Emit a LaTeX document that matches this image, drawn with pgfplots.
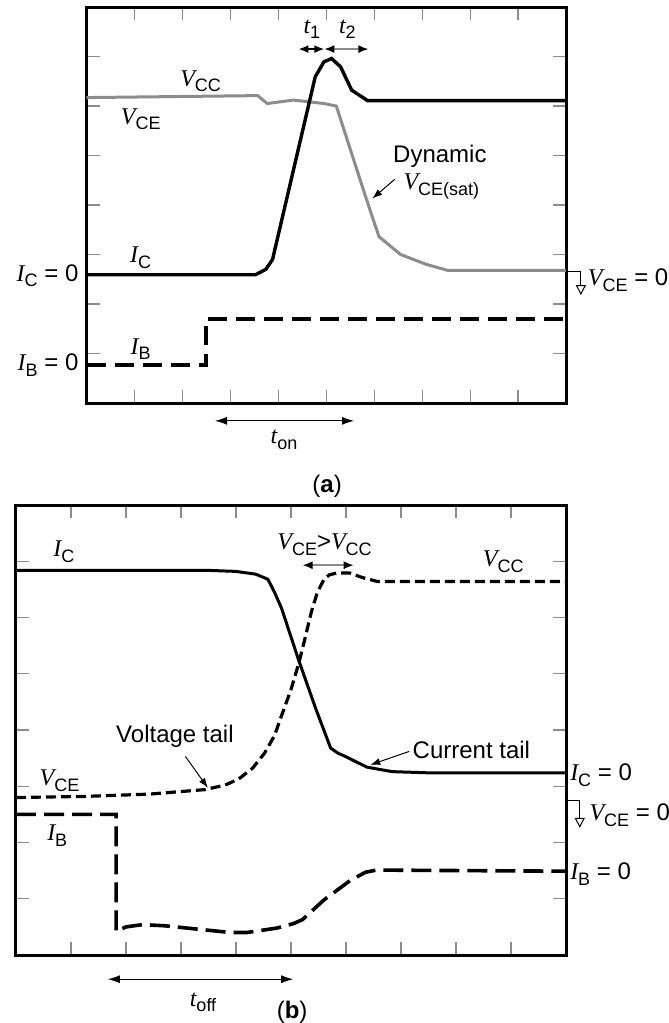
\documentclass[border=0pt]{standalone}
\usepackage{pgfplots}
\pgfplotsset{compat=1.18}
\usetikzlibrary{arrows.meta}
\usepackage{fontspec}
\setmainfont{Liberation Sans}
\newfontfamily\tms{Liberation Serif}
\newcommand{\vi}[1]{{\tms\itshape #1}}
\newcommand{\sbs}[1]{\raisebox{-0.45ex}{\fontsize{9}{10}\selectfont #1}}
\definecolor{lgray}{gray}{0.55}
\tikzset{lbl/.style={font=\fontsize{12}{14}\selectfont, inner sep=0pt}}
\pgfplotsset{
  wave/.style={
    scale only axis, clip=false,
    xmin=0, xmax=10, ymin=0, ymax=8,
    xtick={1,...,9}, ytick={1,...,7},
    xticklabels={}, yticklabels={},
    tick align=inside, major tick length=6.5pt,
    every tick/.style={lgray, line width=0.6pt},
    axis line style={line width=1.5pt},
  },
}
\begin{document}
\begin{tikzpicture}
\path[use as bounding box] (0,0) rectangle (334.5pt,-511.5pt);
% ---------------- (a) ----------------
\begin{axis}[wave, at={(43.25pt,-3.5pt)}, anchor=north west,
  width=239.75pt, height=198pt]
\addplot[lgray, line width=1.5pt] coordinates {
 (0,6.17) (3.57,6.21) (3.77,6.05) (4.32,6.12) (4.95,6.05) (5.21,6.0)
 (5.84,4.11) (6.1,3.36) (6.55,3.0) (7.09,2.8) (7.53,2.68) (10,2.68)};
\addplot[black, line width=1.7pt] coordinates {
 (0,2.59) (3.52,2.59) (3.74,2.70) (3.88,2.9) (4.77,6.59) (4.95,6.89)
 (5.11,6.96) (5.3,6.79) (5.53,6.32) (5.86,6.11) (10,6.11)};
\addplot[black, line width=2pt, dash pattern=on 9.5pt off 4.5pt] coordinates {
 (0,0.77) (2.5,0.77) (2.5,1.70) (10,1.70)};
\node[lbl] at (axis cs:2.38,6.5) {\vi{V}\sbs{CC}};
\node[lbl] at (axis cs:1.13,5.73) {\vi{V}\sbs{CE}};
\node[lbl] at (axis cs:7.37,4.99) {Dynamic};
\node[lbl] at (axis cs:7.40,4.38) {\vi{V}\sbs{CE(sat)}};
\draw[line width=0.5pt, -{Latex[length=5pt,width=3.5pt]}] (axis cs:6.43,4.52) -- (axis cs:5.96,4.13);
\node[lbl] at (axis cs:1.13,2.94) {\vi{I}\sbs{C}};
\node[lbl] at (axis cs:1.13,1.09) {\vi{I}\sbs{B}};
\node[lbl, anchor=east] at (axis cs:-0.16,2.57) {\vi{I}\sbs{C} = 0};
\node[lbl, anchor=east] at (axis cs:-0.16,0.76) {\vi{I}\sbs{B} = 0};
\draw[line width=0.5pt, -{Triangle[open,length=5pt,width=5pt]}] (axis cs:10,2.65) -- (axis cs:10.31,2.65) -- (axis cs:10.31,2.18);
\node[lbl, anchor=west] at (axis cs:10.45,2.48) {\vi{V}\sbs{CE} = 0};
\node[lbl] at (axis cs:4.70,7.55) {\vi{t}\sbs{1}};
\node[lbl] at (axis cs:5.44,7.55) {\vi{t}\sbs{2}};
\draw[line width=0.8pt, {Latex[length=5pt,width=4pt]}-{Latex[length=5pt,width=4pt]}] (axis cs:4.42,7.15) -- (axis cs:4.96,7.15);
\draw[lgray, line width=0.8pt, {Latex[black,length=5pt,width=4pt]}-{Latex[black,length=5pt,width=4pt]}] (axis cs:4.96,7.15) -- (axis cs:5.88,7.15);
\draw[line width=0.5pt, {Latex[length=6pt,width=4pt]}-{Latex[length=6pt,width=4pt]}] (axis cs:2.68,-0.36) -- (axis cs:5.58,-0.36);
\node[lbl] at (axis cs:4.12,-0.75) {\vi{t}\sbs{on}};
\node[lbl] at (axis cs:5.02,-1.68) {(\textbf{a})};
\end{axis}
% ---------------- (b) ----------------
\begin{axis}[wave, at={(8pt,-252.5pt)}, anchor=north west,
  width=275pt, height=225pt]
\addplot[black, line width=1.5pt] coordinates {
 (0,6.84) (3.43,6.84) (4.0,6.82) (4.36,6.77) (4.58,6.68) (4.70,6.45) (4.83,6.16)
 (5.14,5.24) (5.45,4.38) (5.72,3.68) (5.85,3.59) (5.99,3.53) (6.38,3.34)
 (6.84,3.26) (7.46,3.24) (10,3.24)};
\addplot[black, line width=1.6pt, dash pattern=on 5pt off 2.5pt] coordinates {
 (0,2.80) (1.26,2.82) (2.42,2.86) (3.43,2.94) (3.8,3.02) (4.05,3.13) (4.3,3.32)
 (4.52,3.59) (4.70,3.90) (4.83,4.26) (5.0,4.72) (5.14,5.18) (5.26,5.65)
 (5.37,6.10) (5.48,6.45) (5.60,6.68) (5.70,6.76) (5.83,6.79) (6.07,6.79)
 (6.30,6.71) (6.57,6.64) (10,6.64)};
\addplot[black, line width=1.8pt, dash pattern=on 10pt off 4pt] coordinates {
 (0,2.50) (1.82,2.50) (1.82,0.42) (2.0,0.50) (2.3,0.54) (2.7,0.52) (3.3,0.46)
 (3.9,0.40) (4.2,0.40) (4.75,0.48) (5.05,0.56) (5.21,0.63) (5.4,0.80) (5.6,0.98)
 (6.07,1.32) (6.35,1.47) (6.55,1.51) (10,1.49)};
\node[lbl] at (axis cs:0.87,7.17) {\vi{I}\sbs{C}};
\node[lbl] at (axis cs:5.61,7.30) {\vi{V}\sbs{CE}>\vi{V}\sbs{CC}};
\draw[lgray, line width=0.8pt, {Latex[black,length=5pt,width=4pt]}-{Latex[black,length=5pt,width=4pt]}] (axis cs:5.21,6.93) -- (axis cs:6.14,6.93);
\node[lbl] at (axis cs:8.86,6.99) {\vi{V}\sbs{CC}};
\node[lbl] at (axis cs:2.89,3.89) {Voltage tail};
\draw[line width=0.5pt, -{Latex[length=5pt,width=3.5pt]}] (axis cs:3.08,3.53) -- (axis cs:3.49,2.97);
\node[lbl] at (axis cs:8.28,3.65) {Current tail};
\draw[line width=0.5pt, -{Latex[length=5pt,width=3.5pt]}] (axis cs:7.15,3.62) -- (axis cs:6.44,3.38);
\node[lbl] at (axis cs:0.79,3.10) {\vi{V}\sbs{CE}};
\node[lbl] at (axis cs:0.75,2.12) {\vi{I}\sbs{B}};
\node[lbl, anchor=west] at (axis cs:10.07,3.2) {\vi{I}\sbs{C} = 0};
\draw[line width=0.5pt, -{Triangle[open,length=5pt,width=5pt]}] (axis cs:10,2.74) -- (axis cs:10.25,2.74) -- (axis cs:10.25,2.26);
\node[lbl, anchor=west] at (axis cs:10.42,2.49) {\vi{V}\sbs{CE} = 0};
\node[lbl, anchor=west] at (axis cs:10.07,1.44) {\vi{I}\sbs{B} = 0};
\draw[line width=0.5pt, {Latex[length=6pt,width=4pt]}-{Latex[length=6pt,width=4pt]}] (axis cs:1.67,-0.43) -- (axis cs:5.04,-0.43);
\node[lbl] at (axis cs:3.4,-0.84) {\vi{t}\sbs{off}};
\node[lbl] at (axis cs:5.02,-1.02) {(\textbf{b})};
\end{axis}
\end{tikzpicture}
\end{document}
